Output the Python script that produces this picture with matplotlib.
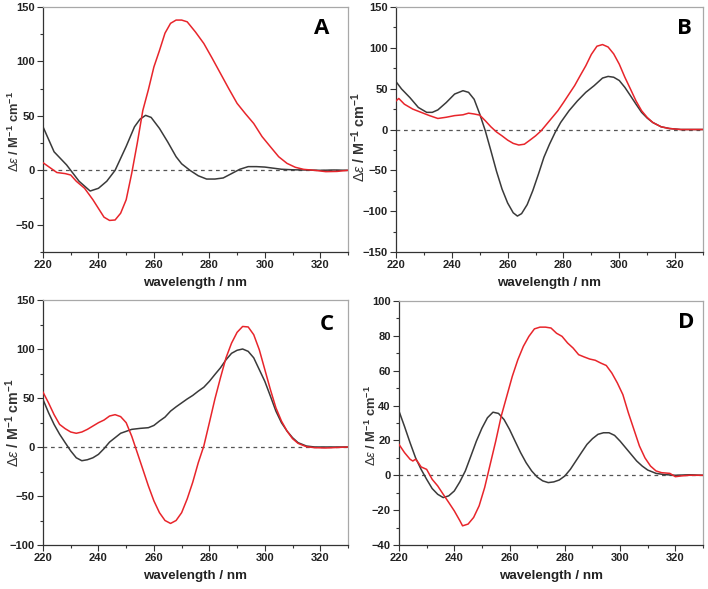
import matplotlib
matplotlib.use("Agg")
import matplotlib.pyplot as plt
from matplotlib.ticker import MultipleLocator

plt.rcParams['font.family'] = ['Liberation Sans', 'DejaVu Sans']
plt.rcParams['mathtext.fontset'] = 'custom'
plt.rcParams['mathtext.rm'] = 'Liberation Sans'
plt.rcParams['mathtext.it'] = 'Liberation Sans:italic'
plt.rcParams['mathtext.bf'] = 'Liberation Sans:bold'

# ---------------- Panel A ----------------
a_black_wl = [220, 224, 228.5, 230, 233, 237, 240, 243, 246, 250, 253, 255, 257, 259, 262, 265, 268, 270,
              273, 276, 279, 282, 285, 288, 291, 294, 297, 300, 303, 306, 310, 315, 320, 325, 330]
a_black_de = [40, 17, 5, 0, -10, -19, -16.5, -10, 0, 22, 40, 47, 50.5, 48.6, 38.5, 26, 12.5, 6,
              0, -5, -8, -8, -7, -3, 1, 3.4, 3.4, 3, 2, 1, 0.5, 0.3, 0, 0.3, 0]
a_red_wl = [220, 222, 225, 228, 230, 232, 235, 238, 240, 242, 244, 246, 248, 250, 252, 254, 256, 258,
            260, 262, 264, 266, 268, 270, 272, 275, 278, 281, 284, 287, 290, 293, 296, 299, 302, 305,
            308, 311, 314, 318, 322, 326, 330]
a_red_de = [7, 3.4, -2, -3, -4.3, -10, -16.5, -27, -35, -43, -46, -45.6, -39.4, -27, -2.7, 25, 55, 74,
            95, 110, 126, 135, 138, 138, 136.4, 127, 116.5, 103, 89, 75, 61.5, 52, 43, 31, 21.7, 12.5,
            6.4, 2.8, 0.9, 0, -1.2, -1, 0]

# ---------------- Panel B ----------------
b_black_wl = [220, 222, 225, 228, 231, 233, 235, 238, 241, 244, 246, 248, 250, 252, 254, 256, 258, 260,
              262, 263.5, 265, 267, 269, 271, 273, 275, 277, 279, 282, 285, 288, 291, 294, 296, 298,
              300, 302, 304, 306, 308, 310, 312, 315, 318, 322, 330]
b_black_de = [58.6, 49.6, 39, 27, 21, 21, 24, 33, 43.4, 47.5, 45.5, 37, 19, -1.6, -26, -51, -73, -90,
              -102, -106, -103, -92, -75, -55, -34, -18, -3.7, 8.6, 23, 35, 45.5, 53.7, 63, 65, 64,
              60, 51.6, 41.4, 31, 21, 14, 8.6, 3.3, 1.2, 0, 0]
b_red_wl = [220, 221, 223, 226, 229, 232, 235, 238, 241, 244, 246, 248, 250, 252, 254, 256, 258, 260,
            262, 264, 266, 268, 270, 272, 274, 276, 278, 280, 282, 284, 286, 288, 290, 292, 294, 296,
            298, 300, 302, 304, 306, 308, 310, 312, 315, 318, 322, 330]
b_red_de = [35, 38, 31, 25, 21, 17, 13.5, 15, 17, 18, 20, 19, 17.6, 10.7, 3.3, -3, -7.8, -13,
            -17, -19, -18, -13, -7.8, -1.6, 6.6, 14.8, 23, 33, 43.4, 53.7, 66, 78, 92, 102, 104, 101,
            92.6, 80, 64, 49.6, 35, 23, 14.8, 8.6, 3.3, 1.2, 0, 0]

# ---------------- Panel C ----------------
c_black_wl = [220, 222, 224, 226, 228, 230, 232, 234, 236, 238, 240, 242, 244, 246, 248, 250, 252, 255,
              258, 260, 262, 264, 266, 268, 270, 272, 274, 276, 278, 280, 282, 284, 286, 288, 290,
              292, 294, 296, 298, 300, 302, 304, 306, 308, 310, 312, 315, 318, 330]
c_black_de = [48.5, 35, 23, 13, 4.4, -4, -11, -14, -13, -11, -7.5, -1.7, 5, 9.5, 14, 16, 18, 19,
              19.7, 22, 26.5, 30.5, 36.6, 41, 45, 49, 52.6, 57, 61, 67, 74, 80.8, 89, 95.6, 98.7,
              100, 97.6, 91, 79, 67, 52, 36.6, 24.8, 16.3, 9.5, 4.4, 1, 0, 0]
c_red_wl = [220, 222, 224, 226, 228, 230, 232, 234, 236, 238, 240, 242, 244, 246, 248, 250, 252, 254,
            256, 258, 260, 262, 264, 266, 268, 270, 272, 274, 276, 278, 280, 282, 284, 286, 288, 290,
            292, 294, 296, 298, 300, 302, 304, 306, 308, 310, 312, 315, 318, 322, 330]
c_red_de = [56, 45, 33, 23, 18.7, 15.3, 14, 15.3, 18, 21.4, 24.8, 27.5, 31.6, 33, 31, 24.8, 11, -5.8,
            -22.7, -39.7, -55, -67, -75, -78, -75, -67, -53, -36, -16, 1, 24.8, 49, 70.6, 91, 106, 117,
            123, 122.5, 114.6, 99.3, 79, 58.7, 40, 26.5, 16.3, 8.5, 3.7, 0.3, -0.7, -1, 0]

# ---------------- Panel D ----------------
d_black_wl = [220, 222, 224, 226, 228, 230, 232, 234, 236, 238, 240, 242, 244, 246, 248, 250, 252, 254,
              256, 258, 260, 262, 264, 266, 268, 270, 272, 274, 276, 278, 280, 282, 284, 286, 288,
              290, 292, 294, 296, 298, 300, 302, 304, 306, 308, 310, 313, 316, 320, 325, 330]
d_black_de = [36.8, 28, 18.7, 10, 3.4, -2.3, -7.6, -10.9, -12.8, -11.8, -9, -3.8, 2.5, 11, 19.6, 27, 33, 36.2,
              35.5, 32, 26.3, 19.6, 13, 7.2, 2.5, -1, -3.2, -4.2, -3.8, -2.7, -0.4, 3.4, 8.2, 13, 17.7,
              21, 23.5, 24.4, 24.4, 22.9, 19.6, 15.8, 12, 8.2, 5.3, 3, 1.1, 0.4, 0, 0.3, 0]
d_red_wl = [220, 222, 224, 225, 226, 227, 228, 230, 232, 234, 236, 238, 240, 242, 243, 245, 247, 249,
            251, 253, 255, 257, 259, 261, 263, 265, 267, 269, 271, 273, 275, 277, 279, 281, 283, 285,
            287, 289, 291, 293, 295, 297, 299, 301, 303, 305, 307, 309, 311, 313, 315, 318, 320, 322,
            325, 330]
d_red_de = [17.7, 13, 9.2, 8.2, 9.2, 7.2, 4.8, 3.4, -2.3, -6.1, -10.9, -15.6, -20.4, -26, -29, -28, -24.2, -17.5,
            -7, 6.3, 19.6, 34, 45.4, 56.8, 66.3, 74, 79.7, 84, 85, 85, 84.5, 81.5, 79.7, 75.9, 73, 69.2,
            67.9, 66.7, 66, 64.4, 63, 58.7, 53, 46.3, 35.8, 26.3, 16.8, 10, 5.3, 2.5, 1.5, 1.1, -0.8, -0.4,
            0, 0]

panel_letters = ['A', 'B', 'C', 'D']
y_limits = [(-75, 150), (-150, 150), (-100, 150), (-40, 100)]
y_major = [50, 50, 50, 20]
x_label = 'wavelength / nm'
y_label = r'$\Delta\varepsilon$ / M$^{\mathbf{-1}}$ cm$^{\mathbf{-1}}$'

black_col = '#3a3a3a'
red_col = '#e8252b'

W, H = 708, 589
fig = plt.figure(figsize=(W / 100, H / 100), dpi=100)
boxes = [(43, 7, 348, 252), (396, 7, 703, 252), (43, 300, 348, 545), (399, 301, 703, 545)]
letter_pos = [(0.915, 0.914), (0.941, 0.914), (0.931, 0.902), (0.944, 0.91)]
ylabel_pos = [(-0.095, 0.49), (-0.12, 0.47), (-0.10, 0.497), (-0.092, 0.488)]
ylabel_size = [9.3, 10.4, 10.2, 9.3]
data = [(a_black_wl, a_black_de, a_red_wl, a_red_de),
        (b_black_wl, b_black_de, b_red_wl, b_red_de),
        (c_black_wl, c_black_de, c_red_wl, c_red_de),
        (d_black_wl, d_black_de, d_red_wl, d_red_de)]

for i, (l, t, r, b) in enumerate(boxes):
    ax = fig.add_axes([l / W, 1 - b / H, (r - l) / W, (b - t) / H])
    bw, bd, rw, rd = data[i]
    ax.axhline(0, color='#555555', lw=0.9, ls=(0, (3, 3)), zorder=1)
    ax.plot(bw, bd, color=black_col, lw=1.1, zorder=2)
    ax.plot(rw, rd, color=red_col, lw=1.1, zorder=3)
    ax.set_xlim(220, 330)
    ax.set_ylim(*y_limits[i])
    ax.xaxis.set_major_locator(MultipleLocator(20))
    ax.xaxis.set_minor_locator(MultipleLocator(10))
    ax.yaxis.set_major_locator(MultipleLocator(y_major[i]))
    ax.yaxis.set_minor_locator(MultipleLocator(y_major[i] / 2))
    ax.tick_params(which='both', direction='out', top=False, right=False, color='#333333', width=0.8)
    ax.tick_params(which='major', length=4, labelsize=8, pad=2)
    ax.tick_params(which='minor', length=2.5)
    for lab in ax.get_xticklabels() + ax.get_yticklabels():
        lab.set_fontweight('bold')
        lab.set_color('#222222')
    for s in ['left', 'bottom']:
        ax.spines[s].set_color('#333333')
        ax.spines[s].set_linewidth(0.9)
    for s in ['top', 'right']:
        ax.spines[s].set_color('#a8a8a8')
        ax.spines[s].set_linewidth(0.9)
    ax.set_xlabel(x_label, fontsize=9.6, fontweight='bold', color='#222222', labelpad=5)
    ax.set_ylabel(y_label, fontsize=ylabel_size[i], fontweight='bold', color='#333333')
    ax.yaxis.label.set_va('center')
    ax.yaxis.set_label_coords(*ylabel_pos[i])
    ax.text(letter_pos[i][0], letter_pos[i][1], panel_letters[i], transform=ax.transAxes,
            ha='center', va='center', fontsize=16, fontweight='bold', family='Open Sans')

fig.savefig('out.png', dpi=100)
